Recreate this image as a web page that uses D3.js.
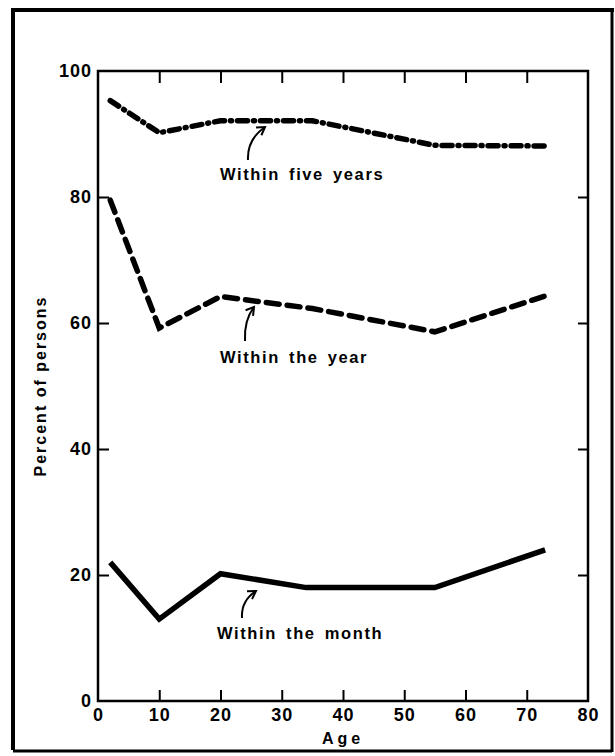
<!DOCTYPE html>
<html>
<head>
<meta charset="utf-8">
<script src="https://cdn.jsdelivr.net/npm/d3@7"></script>
<style>
  body { margin: 0; background: #fff; }
  text { font-family: "Liberation Sans", Arial, sans-serif; font-weight: bold; fill: #000; }
</style>
</head>
<body>
<div id="chart"></div>
<script>
// data
var ages = {
  month: [2, 10, 20, 34, 55, 73],
  year: [2, 10, 20, 35, 55, 73],
  five: [2, 10, 20, 35, 55, 73]
};
var withinMonth = [22, 13, 20.2, 18, 18, 24];
var withinYear = [79.5, 59.2, 64.2, 62.3, 58.6, 64.3];
var withinFive = [95.3, 90.2, 92.1, 92.1, 88.2, 88.1];
var xTicks = [0, 10, 20, 30, 40, 50, 60, 70, 80];
var yTicks = [0, 20, 40, 60, 80, 100];
var seriesLabels = ['Within five years', 'Within the year', 'Within the month'];

var width = 615, height = 756;
var margin = {top: 71, right: 27, bottom: 54, left: 98};

var svg = d3.select('#chart')
  .append('svg')
  .attr('width', width)
  .attr('height', height);

// outer frame
svg.append('path')
  .attr('d', 'M13,750 L13,10 L614,10')
  .attr('fill', 'none')
  .attr('stroke', '#000')
  .attr('stroke-width', 4);
svg.append('line')
  .attr('x1', 612).attr('x2', 612).attr('y1', 10).attr('y2', 752)
  .attr('stroke', '#000').attr('stroke-width', 3);
svg.append('line')
  .attr('x1', 13).attr('x2', 612).attr('y1', 751).attr('y2', 751)
  .attr('stroke', '#000').attr('stroke-width', 3);

var x = d3.scaleLinear().domain([0, 80]).range([margin.left, width - margin.right]);
var y = d3.scaleLinear().domain([0, 100]).range([height - margin.bottom - 1, margin.top]);

var inner = function(t) { return t > 0 && t < 80; };

// plot box
svg.append('rect')
  .attr('x', x(0)).attr('y', y(100))
  .attr('width', x(80) - x(0)).attr('height', y(0) - y(100))
  .attr('fill', 'none').attr('stroke', '#000').attr('stroke-width', 2.5);

// inward ticks on all four sides
function tickStyle(g) {
  g.select('.domain').remove();
  g.selectAll('.tick line').attr('stroke', '#000').attr('stroke-width', 2);
}

svg.append('g')
  .attr('transform', 'translate(0,' + y(0) + ')')
  .call(d3.axisBottom(x).tickValues(xTicks).tickSize(-11).tickPadding(7).tickFormat(d3.format('d')))
  .call(tickStyle)
  .call(function(g) {
    g.selectAll('.tick').filter(function(d) { return !inner(d); }).select('line').remove();
    g.selectAll('.tick text').style('font-size', '18px').style('letter-spacing', '1px');
  });

svg.append('g')
  .attr('transform', 'translate(0,' + y(100) + ')')
  .call(d3.axisTop(x).tickValues(xTicks.filter(inner)).tickSize(-12).tickFormat(''))
  .call(tickStyle);

svg.append('g')
  .attr('transform', 'translate(' + x(0) + ',0)')
  .call(d3.axisLeft(y).tickValues(yTicks).tickSize(-11).tickPadding(6).tickFormat(d3.format('d')))
  .call(tickStyle)
  .call(function(g) {
    g.selectAll('.tick').filter(function(d) { return d === 0 || d === 100; }).select('line').remove();
    g.selectAll('.tick text').style('font-size', '18px').style('letter-spacing', '1px');
  });

svg.append('g')
  .attr('transform', 'translate(' + x(80) + ',0)')
  .call(d3.axisRight(y).tickValues(yTicks.filter(function(d) { return d > 0 && d < 100; })).tickSize(-10).tickFormat(''))
  .call(tickStyle);

// axis titles
svg.append('text')
  .attr('x', x(40)).attr('y', 744)
  .attr('text-anchor', 'middle')
  .style('font-size', '16px').style('letter-spacing', '4px')
  .text('Age');

svg.append('text')
  .attr('transform', 'translate(46,' + y(50) + ') rotate(-90)')
  .attr('text-anchor', 'middle')
  .style('font-size', '16px').style('letter-spacing', '2px')
  .text('Percent of persons');

// lines
var line = d3.line()
  .x(function(d) { return x(d[0]); })
  .y(function(d) { return y(d[1]); });

function drawSeries(xs, vals, dash) {
  svg.append('path')
    .datum(d3.zip(xs, vals))
    .attr('d', line)
    .attr('fill', 'none')
    .attr('stroke', '#000')
    .attr('stroke-width', 5.5)
    .attr('stroke-linejoin', 'miter')
    .attr('stroke-linecap', dash ? 'round' : 'butt')
    .attr('stroke-dasharray', dash);
}

drawSeries(ages.five, withinFive, '10 6 1 6');
drawSeries(ages.year, withinYear, '13 8');
drawSeries(ages.month, withinMonth, null);

// labels with curved arrows
var labels = [
  {text: seriesLabels[0], tx: 220, ty: 180, from: [248, 160], to: [265, 127]},
  {text: seriesLabels[1], tx: 220, ty: 363, from: [245, 341], to: [254, 307]},
  {text: seriesLabels[2], tx: 217, ty: 639, from: [242, 618], to: [256, 591]}
];

labels.forEach(function(l) {
  svg.append('text')
    .attr('x', l.tx).attr('y', l.ty)
    .style('font-size', '16.5px').style('letter-spacing', '1.6px').style('word-spacing', '3px')
    .text(l.text);

  var cx = l.from[0] - 1, cy = (l.from[1] + l.to[1]) / 2 - 4;
  svg.append('path')
    .attr('d', 'M' + l.from + ' Q' + cx + ',' + cy + ' ' + l.to)
    .attr('fill', 'none').attr('stroke', '#000').attr('stroke-width', 2);
  // arrow head
  var a = Math.atan2(l.to[1] - cy, l.to[0] - cx);
  var h = 9;
  svg.append('path')
    .attr('d', 'M' + (l.to[0] - h * Math.cos(a - 0.55)) + ',' + (l.to[1] - h * Math.sin(a - 0.55)) +
      ' L' + l.to + ' L' + (l.to[0] - h * Math.cos(a + 0.55)) + ',' + (l.to[1] - h * Math.sin(a + 0.55)))
    .attr('fill', 'none').attr('stroke', '#000').attr('stroke-width', 2);
});
</script>
</body>
</html>
